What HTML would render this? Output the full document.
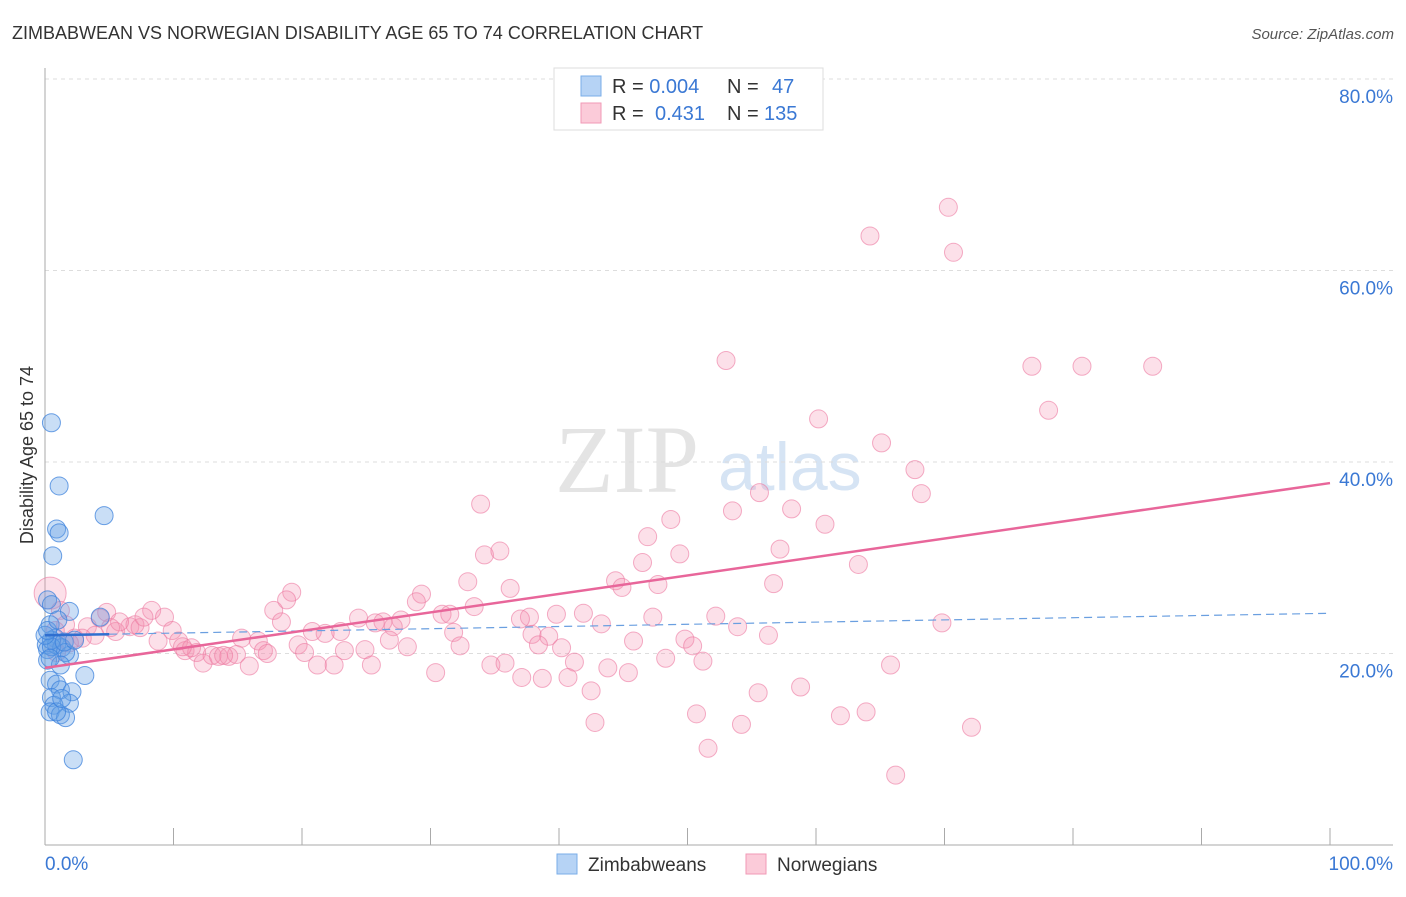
<!DOCTYPE html>
<html><head><meta charset="utf-8"><style>
body{margin:0;background:#fff;font-family:"Liberation Sans",sans-serif}
</style></head><body>
<svg width="1406" height="892" viewBox="0 0 1406 892" style="font-family:'Liberation Sans',sans-serif">
<text x="12" y="39" font-size="18" fill="#333">ZIMBABWEAN VS NORWEGIAN DISABILITY AGE 65 TO 74 CORRELATION CHART</text>
<text x="1394" y="39" font-size="15" fill="#555" font-style="italic" text-anchor="end">Source: ZipAtlas.com</text>
<text x="555" y="492" font-size="96" fill="#e4e4e4" font-family="Liberation Serif,serif">ZIP</text>
<text x="718" y="490" font-size="68" fill="#d6e4f4">atlas</text>
<g id="grid"></g>
<g id="axes"></g>
<text transform="translate(33,455) rotate(-90)" font-size="18" fill="#333" text-anchor="middle">Disability Age 65 to 74</text>
<g id="pts"></g>
<g id="lines"></g>
<g>
<rect x="554" y="68" width="269" height="62" fill="#fff" stroke="#ddd"/>
<rect x="581" y="76" width="20" height="20" fill="#b6d3f5" stroke="#7aaee8"/>
<rect x="581" y="103" width="20" height="20" fill="#fbcbd9" stroke="#f09ab6"/>
<text x="612" y="93" font-size="20" fill="#333">R = <tspan fill="#3a78d4">0.004</tspan><tspan x="727">N = </tspan><tspan x="772" fill="#3a78d4">47</tspan></text>
<text x="612" y="120" font-size="20" fill="#333">R = <tspan x="655" fill="#3a78d4">0.431</tspan><tspan x="727">N = </tspan><tspan x="764" fill="#3a78d4">135</tspan></text>
</g>
<g>
<rect x="557" y="854" width="20" height="20" fill="#b6d3f5" stroke="#7aaee8"/>
<text x="588" y="871" font-size="19" fill="#333">Zimbabweans</text>
<rect x="746" y="854" width="20" height="20" fill="#fbcbd9" stroke="#f09ab6"/>
<text x="777" y="871" font-size="19" fill="#333">Norwegians</text>
</g>
</svg>
<script>
const yTicks=[20,40,60,80];
const xTickLabels=["0.0%","100.0%"];
const blueX=[0.5,1.1,4.6,0.9,1.1,0.6,0.2,0.5,1.9,4.3,0.4,0.8,0.1,0.2,0.9,1.3,0.5,1.9,1.6,0.2,1.2,3.1,0.4,0.9,1.2,2.1,1.9,0.5,0.7,0.4,1.2,1.6,0.9,0.5,0.0,0.2,1.0,2.2,1.5,0.4,2.3,1.3];
const blueY=[44.1,37.5,34.4,33.0,32.6,30.2,25.6,25.1,24.4,23.8,23.0,21.6,20.9,20.4,20.9,20.6,21.4,19.8,20.1,19.3,18.8,17.7,17.2,16.8,16.2,16.0,14.8,15.4,14.6,13.9,13.6,13.3,13.9,20.7,21.9,22.4,23.5,8.9,21.2,19.5,21.4,15.3];
const pinkX=[53.0,70.3,64.2,70.7,76.8,80.7,86.2,78.1,60.2,65.1,67.7,68.2,55.6,53.5,58.1,60.7,33.9,48.7,46.9,49.4,57.2,34.2,35.4,46.5,63.3,56.7,32.9,44.4,47.7,44.9,36.2,29.3,19.2,18.8,17.8,28.9,33.4,30.9,31.5,41.9,37.7,37.0,39.8,43.3,47.3,52.2,69.8,53.9,56.3,24.4,26.3,27.7,25.7,27.1,31.8,37.9,39.2,45.8,49.8,50.4,38.4,40.2,32.3,28.2,26.8,23.0,21.8,20.8,18.4,15.3,16.6,17.0,19.7,20.2,23.3,24.9,17.3,21.2,22.5,25.4,30.4,34.7,35.8,37.1,41.2,38.7,40.7,43.8,45.4,48.3,51.2,65.8,42.5,58.8,55.5,50.7,54.2,61.9,63.9,72.1,42.8,51.6,66.2,0.4,1.2,1.6,2.3,3.3,4.3,4.8,5.5,6.6,7.0,7.4,8.3,9.3,9.9,8.8,10.4,10.9,11.8,12.3,13.0,13.5,14.3,14.9,15.9,13.9,11.4,10.7,7.7,3.9,2.9,1.9,0.9,0.8,5.8,5.1];
const pinkY=[50.6,66.6,63.6,61.9,50.0,50.0,50.0,45.4,44.5,42.0,39.2,36.7,36.8,34.9,35.1,33.5,35.6,34.0,32.2,30.4,30.9,30.3,30.7,29.5,29.3,27.3,27.5,27.6,27.2,26.9,26.8,26.2,26.4,25.6,24.5,25.4,24.9,24.1,24.1,24.2,23.8,23.6,24.1,23.1,23.8,23.9,23.2,22.8,21.9,23.7,23.3,23.5,23.2,22.8,22.2,22.0,21.8,21.3,21.5,20.8,20.9,20.6,20.8,20.7,21.4,22.3,22.1,22.3,23.3,21.6,21.3,20.3,20.9,20.1,20.3,20.4,20.0,18.8,18.8,18.8,18.0,18.8,19.0,17.5,19.1,17.4,17.5,18.5,18.0,19.5,19.2,18.8,16.1,16.5,15.9,13.7,12.6,13.5,13.9,12.3,12.8,10.1,7.3,26.3,24.5,23.0,21.6,22.8,23.7,24.3,22.3,22.8,23.0,22.7,24.5,23.8,22.4,21.3,21.3,20.3,20.1,19.0,19.8,19.7,19.7,19.9,18.7,19.8,20.6,20.7,23.8,21.9,21.6,21.1,20.1,22.4,23.3,22.7];
const pinkTrend=[18.5,37.8];
const blueTrend=[21.9,24.2];
const blueSolidEnd=5;
const NS='http://www.w3.org/2000/svg';
const X=v=>45+v*12.85, Y=v=>845-v*9.575;
function mk(t,a,p){const e=document.createElementNS(NS,t);for(const k in a)e.setAttribute(k,a[k]);p.appendChild(e);return e;}
const grid=document.getElementById('grid'),axes=document.getElementById('axes'),pts=document.getElementById('pts'),lines=document.getElementById('lines');
yTicks.forEach(t=>{
 const l=mk('line',{x1:45,x2:1393,y1:Y(t),y2:Y(t),stroke:'#ddd','stroke-dasharray':'4,4'},grid);
 
 
 const tx=mk('text',{x:1393,y:Y(t)+24,'font-size':19,fill:'#3a78d4','text-anchor':'end'},grid);
 tx.textContent=t+'.0%';
 
 
});
const ya=mk('line',{x1:45,x2:45,y1:68,y2:845,stroke:'#aaa'},axes);


const xa=mk('line',{x1:45,x2:1393,y1:845,y2:845,stroke:'#aaa'},axes);


for(let i=1;i<=10;i++){const tk=mk('line',{x1:X(i*10),x2:X(i*10),y1:828,y2:845,stroke:'#aaa'},axes);
 
 }
[[0,'start',45],[100,'end',1393]].forEach((d,i)=>{const t=mk('text',{x:d[2],y:870,'font-size':19,fill:'#3a78d4','text-anchor':d[1]},axes);t.textContent=xTickLabels[i];
 
 });
pinkX.forEach((x,i)=>{const c=mk('circle',{cx:X(x),cy:Y(pinkY[i]),r:i==103?16:9,fill:'rgba(244,143,177,0.28)',stroke:'rgba(236,120,160,0.6)'},pts);
 
 });
blueX.forEach((x,i)=>{const c=mk('circle',{cx:X(x),cy:Y(blueY[i]),r:9,fill:'rgba(100,160,230,0.35)',stroke:'rgba(60,130,220,0.75)'},pts);
 
 });
const bt=v=>blueTrend[0]+(blueTrend[1]-blueTrend[0])*v/100;
const bd=mk('line',{x1:X(blueSolidEnd),y1:Y(bt(blueSolidEnd)),x2:X(100),y2:Y(bt(100)),stroke:'#6a9fe0','stroke-width':1.2,'stroke-dasharray':'8,5'},lines);


const bs=mk('line',{x1:X(0),y1:Y(bt(0)),x2:X(blueSolidEnd),y2:Y(bt(blueSolidEnd)),stroke:'#2f6fd0','stroke-width':2.5},lines);


const pt=mk('line',{x1:X(0),y1:Y(pinkTrend[0]),x2:X(100),y2:Y(pinkTrend[1]),stroke:'#e8669a','stroke-width':2.5},lines);


</script>
</body></html>
